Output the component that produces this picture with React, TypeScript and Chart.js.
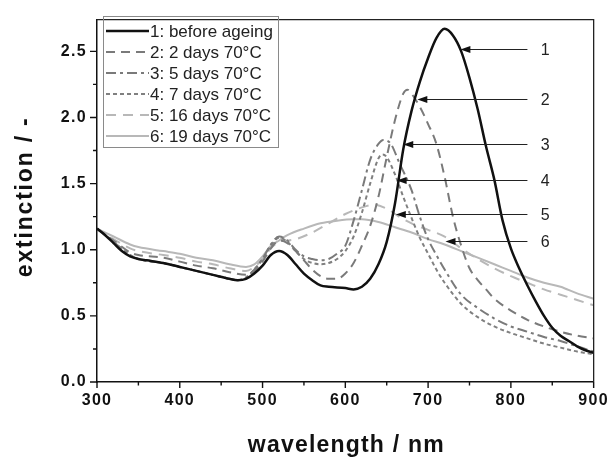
import { useEffect, useRef } from 'react';
import { Chart, registerables } from 'chart.js';

Chart.register(...registerables);

const seriesLabels = [
  '1: before ageing',
  '2: 2 days 70°C',
  '3: 5 days 70°C',
  '4: 7 days 70°C',
  '5: 16 days 70°C',
  '6: 19 days 70°C',
];

const c1Wl = [300, 310, 320, 330, 340, 350, 360, 380, 400, 420, 440, 460, 470, 480, 490, 500, 510, 520, 530, 540, 550, 560, 570, 580, 600, 610, 620, 630, 640, 650, 660, 670, 680, 690, 700, 710, 720, 730, 740, 750, 760, 770, 780, 790, 800, 810, 820, 830, 840, 850, 860, 870, 880, 890, 900];
const c1Val = [1.16, 1.11, 1.05, 0.99, 0.95, 0.93, 0.92, 0.90, 0.87, 0.84, 0.81, 0.78, 0.77, 0.78, 0.82, 0.88, 0.96, 0.99, 0.96, 0.89, 0.82, 0.77, 0.73, 0.72, 0.71, 0.70, 0.72, 0.78, 0.89, 1.06, 1.35, 1.76, 2.05, 2.27, 2.45, 2.60, 2.67, 2.62, 2.50, 2.30, 2.06, 1.78, 1.53, 1.22, 1.01, 0.86, 0.73, 0.61, 0.50, 0.41, 0.35, 0.31, 0.27, 0.24, 0.22];

const c2Wl = [300, 320, 340, 350, 380, 400, 420, 440, 460, 480, 490, 500, 510, 520, 530, 540, 550, 560, 570, 580, 590, 600, 610, 620, 630, 640, 650, 660, 670, 675, 680, 690, 700, 710, 720, 730, 740, 750, 760, 770, 780, 800, 820, 840, 860, 880, 900];
const c2Val = [1.16, 1.07, 0.98, 0.96, 0.94, 0.91, 0.88, 0.86, 0.83, 0.81, 0.84, 0.91, 1.01, 1.07, 1.05, 0.99, 0.92, 0.85, 0.80, 0.78, 0.78, 0.82, 0.90, 1.03, 1.18, 1.40, 1.70, 1.98, 2.18, 2.21, 2.18, 2.08, 1.95, 1.80, 1.55, 1.25, 1.03, 0.86, 0.77, 0.70, 0.63, 0.54, 0.47, 0.42, 0.38, 0.35, 0.33];

const c3Wl = [300, 320, 340, 350, 380, 400, 420, 440, 460, 470, 480, 490, 500, 510, 520, 530, 540, 550, 560, 570, 580, 590, 600, 610, 620, 630, 640, 646, 655, 665, 680, 690, 700, 710, 720, 740, 760, 780, 800, 820, 840, 860, 880, 900];
const c3Val = [1.16, 1.06, 0.96, 0.93, 0.90, 0.87, 0.84, 0.81, 0.78, 0.77, 0.79, 0.85, 0.93, 1.04, 1.10, 1.07, 1.00, 0.95, 0.93, 0.92, 0.93, 0.97, 1.03, 1.22, 1.45, 1.68, 1.80, 1.83, 1.80, 1.66, 1.45, 1.25, 1.08, 0.96, 0.85, 0.66, 0.56, 0.48, 0.42, 0.38, 0.34, 0.31, 0.27, 0.23];

const c4Wl = [300, 320, 340, 350, 380, 400, 420, 440, 460, 470, 480, 490, 500, 510, 520, 530, 540, 550, 560, 570, 580, 590, 600, 610, 620, 630, 640, 645, 650, 660, 670, 680, 690, 700, 710, 720, 740, 760, 780, 800, 820, 840, 860, 880, 900];
const c4Val = [1.16, 1.06, 0.96, 0.93, 0.90, 0.87, 0.84, 0.81, 0.78, 0.77, 0.79, 0.85, 0.93, 1.03, 1.09, 1.06, 0.99, 0.93, 0.90, 0.89, 0.90, 0.93, 0.99, 1.10, 1.28, 1.50, 1.69, 1.72, 1.70, 1.57, 1.40, 1.24, 1.09, 0.97, 0.85, 0.75, 0.59, 0.49, 0.42, 0.37, 0.33, 0.29, 0.26, 0.23, 0.21];

const c5Wl = [300, 320, 340, 350, 380, 400, 420, 440, 460, 480, 490, 500, 510, 520, 530, 540, 560, 580, 600, 620, 635, 650, 665, 680, 700, 720, 740, 760, 780, 800, 820, 840, 860, 880, 900];
const c5Val = [1.16, 1.08, 1.01, 0.99, 0.96, 0.94, 0.91, 0.89, 0.86, 0.84, 0.87, 0.93, 1.01, 1.06, 1.07, 1.08, 1.13, 1.20, 1.27, 1.32, 1.34, 1.31, 1.25, 1.20, 1.15, 1.10, 1.01, 0.93, 0.86, 0.80, 0.75, 0.70, 0.66, 0.62, 0.58];

const c6Wl = [300, 320, 340, 350, 380, 400, 420, 440, 460, 480, 490, 500, 510, 520, 530, 550, 570, 590, 610, 620, 640, 660, 680, 700, 720, 740, 760, 780, 800, 820, 840, 860, 880, 900];
const c6Val = [1.16, 1.10, 1.04, 1.02, 0.99, 0.97, 0.94, 0.92, 0.89, 0.87, 0.89, 0.95, 1.03, 1.07, 1.11, 1.16, 1.20, 1.22, 1.23, 1.23, 1.21, 1.17, 1.13, 1.08, 1.04, 0.99, 0.94, 0.89, 0.84, 0.79, 0.75, 0.72, 0.67, 0.63];

const xTicks = [300, 400, 500, 600, 700, 800, 900];
const xMinorTicks = [350, 450, 550, 650, 750, 850];
const yTicks = [0, 0.5, 1.0, 1.5, 2.0, 2.5];
const yMinorTicks = [0.25, 0.75, 1.25, 1.75, 2.25];

const arrowLabels = ['1', '2', '3', '4', '5', '6'];
const arrowTipWl = [739, 687, 670, 662, 661, 721];
const arrowY = [2.52, 2.14, 1.80, 1.526, 1.267, 1.067];
const arrowTailWl = 820;
const arrowLabelWl = 836;

const FONT = '"Liberation Sans", Arial, Helvetica, sans-serif';

const styles = [
  { color: '#111111', width: 2.5, dash: [] as number[] },
  { color: '#7a7a7a', width: 2, dash: [9, 6] },
  { color: '#7a7a7a', width: 2, dash: [10, 4, 3, 4] },
  { color: '#808080', width: 2, dash: [4, 3] },
  { color: '#b8b8b8', width: 2, dash: [10, 7] },
  { color: '#b8b8b8', width: 2, dash: [] as number[] },
];

const seriesWl = [c1Wl, c2Wl, c3Wl, c4Wl, c5Wl, c6Wl];
const seriesVal = [c1Val, c2Val, c3Val, c4Val, c5Val, c6Val];

export default function App() {
  const ref = useRef<HTMLCanvasElement>(null);

  useEffect(() => {
    if (!ref.current) return;

    const decor = {
      id: 'decor',
      beforeDraw(chart: any) {
        chart.ctx.letterSpacing = '1.3px';
      },
      beforeDatasetsDraw(chart: any) {
        chart.ctx.letterSpacing = '0px';
      },
      afterDraw(chart: any) {
        const ctx = chart.ctx as CanvasRenderingContext2D;
        const { left, right, top, bottom } = chart.chartArea;
        const xs = chart.scales.x;
        const ys = chart.scales.y;
        ctx.save();
        (ctx as any).letterSpacing = '0px';

        // frame top / right
        ctx.strokeStyle = '#222';
        ctx.lineWidth = 1.3;
        ctx.setLineDash([]);
        ctx.beginPath();
        ctx.moveTo(left, top);
        ctx.lineTo(right, top);
        ctx.lineTo(right, bottom);
        ctx.stroke();

        // ticks
        ctx.strokeStyle = '#111';
        ctx.lineWidth = 1.4;
        ctx.beginPath();
        yTicks.forEach((v) => {
          const p = ys.getPixelForValue(v);
          ctx.moveTo(left - 7, p);
          ctx.lineTo(left, p);
        });
        yMinorTicks.forEach((v) => {
          const p = ys.getPixelForValue(v);
          ctx.moveTo(left - 4, p);
          ctx.lineTo(left, p);
        });
        xTicks.forEach((v) => {
          const p = xs.getPixelForValue(v);
          ctx.moveTo(p, bottom);
          ctx.lineTo(p, bottom + 6);
        });
        xMinorTicks.forEach((v) => {
          const p = xs.getPixelForValue(v);
          ctx.moveTo(p, bottom);
          ctx.lineTo(p, bottom + 3.5);
        });
        ctx.stroke();

        // arrows with labels
        ctx.strokeStyle = '#222';
        ctx.fillStyle = '#111';
        ctx.lineWidth = 1;
        ctx.font = `16px ${FONT}`;
        ctx.textAlign = 'left';
        ctx.textBaseline = 'middle';
        arrowLabels.forEach((lab, i) => {
          const y = Math.round(ys.getPixelForValue(arrowY[i])) + 0.5;
          const x1 = xs.getPixelForValue(arrowTipWl[i]);
          const x2 = xs.getPixelForValue(arrowTailWl);
          ctx.beginPath();
          ctx.moveTo(x1 + 8, y);
          ctx.lineTo(x2, y);
          ctx.stroke();
          ctx.beginPath();
          ctx.moveTo(x1, y);
          ctx.lineTo(x1 + 10, y - 3.5);
          ctx.lineTo(x1 + 10, y + 3.5);
          ctx.closePath();
          ctx.fill();
          ctx.fillStyle = '#222';
          ctx.fillText(lab, xs.getPixelForValue(arrowLabelWl), y + 1);
          ctx.fillStyle = '#111';
        });

        // legend
        ctx.strokeStyle = '#8a8a8a';
        ctx.lineWidth = 1;
        ctx.strokeRect(103.5, 16.5, 175, 131);
        ctx.font = `17px ${FONT}`;
        ctx.fillStyle = '#222';
        chart.data.datasets.forEach((ds: any, i: number) => {
          const y = 31 + i * 21;
          ctx.save();
          ctx.strokeStyle = ds.borderColor;
          ctx.lineWidth = ds.borderWidth;
          ctx.setLineDash(ds.borderDash || []);
          ctx.beginPath();
          ctx.moveTo(106, y);
          ctx.lineTo(149, y);
          ctx.stroke();
          ctx.restore();
          ctx.fillText(ds.label, 150, y + 1);
        });

        // axis titles
        ctx.fillStyle = '#111';
        ctx.font = `bold 23px ${FONT}`;
        ctx.textAlign = 'center';
        ctx.textBaseline = 'alphabetic';
        (ctx as any).letterSpacing = '1.2px';
        ctx.fillText('wavelength / nm', (left + right) / 2 + 1, 452);
        ctx.save();
        ctx.translate(32, (top + bottom) / 2 - 4);
        ctx.rotate(-Math.PI / 2);
        (ctx as any).letterSpacing = '1.8px';
        ctx.fillText('extinction / -', 0, 0);
        ctx.restore();

        ctx.restore();
      },
    };

    const chart = new Chart(ref.current, {
      type: 'line',
      data: {
        datasets: seriesLabels.map((label, i) => ({
          label,
          data: seriesWl[i].map((x, j) => ({ x, y: seriesVal[i][j] })),
          borderColor: styles[i].color,
          borderWidth: styles[i].width,
          borderDash: styles[i].dash,
          pointRadius: 0,
          fill: false,
          cubicInterpolationMode: 'monotone' as const,
        })),
      },
      options: {
        animation: false,
        responsive: false,
        layout: { padding: { top: 12, right: 19, left: 0, bottom: 0 } },
        plugins: { legend: { display: false }, tooltip: { enabled: false } },
        scales: {
          x: {
            type: 'linear',
            min: 300,
            max: 900,
            afterFit: (s: any) => {
              s.height = 76;
            },
            afterBuildTicks: (s: any) => {
              s.ticks = xTicks.map((v) => ({ value: v }));
            },
            grid: { display: false, drawTicks: false },
            border: { display: true, color: '#111', width: 1.5 },
            ticks: {
              padding: 9,
              color: '#111',
              autoSkip: false,
              maxRotation: 0,
              font: { family: FONT, size: 16, weight: 'bold' },
              callback: (v: any) => String(v),
            },
          },
          y: {
            type: 'linear',
            min: 0,
            max: 2.74,
            afterFit: (s: any) => {
              s.width = 97;
            },
            afterBuildTicks: (s: any) => {
              s.ticks = yTicks.map((v) => ({ value: v }));
            },
            grid: { display: false, drawTicks: false },
            border: { display: true, color: '#111', width: 1.5 },
            ticks: {
              padding: 10,
              color: '#111',
              font: { family: FONT, size: 16, weight: 'bold' },
              callback: (v: any) => Number(v).toFixed(1),
            },
          },
        },
      } as any,
      plugins: [decor],
    });

    return () => chart.destroy();
  }, []);

  return (
    <div style={{ position: 'absolute', left: 0, top: 0, width: 616, height: 458, background: '#fff' }}>
      <canvas ref={ref} width={616} height={458} style={{ width: 616, height: 458, display: 'block' }} />
    </div>
  );
}
